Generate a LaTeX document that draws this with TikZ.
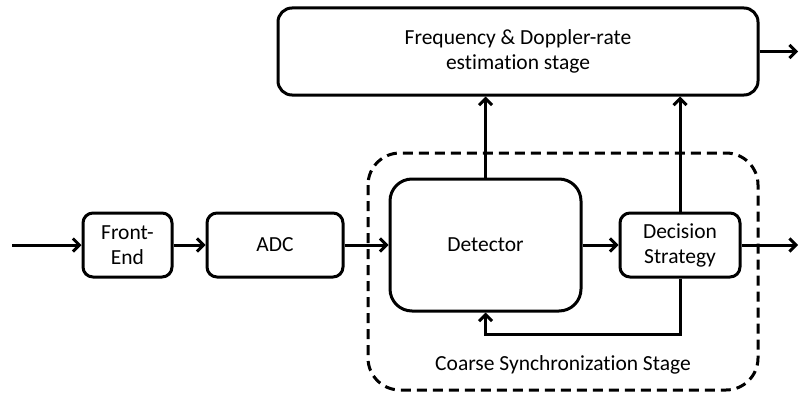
\documentclass[tikz,border=0pt]{standalone}
\usepackage{fontspec}
\setmainfont{Carlito}[Ligatures=NoCommon]
\usetikzlibrary{arrows.meta}
\tikzset{
  block/.style={draw,line width=3pt,rounded corners=10pt,align=center,inner sep=0pt},
  arr/.style={line width=3pt,-{Straight Barb[length=6.5pt,width=13pt,line width=3pt]}},
  stagebox/.style={line width=3pt,dash pattern=on 10pt off 6pt,rounded corners=32pt}
}
\begin{document}
\begin{tikzpicture}[x=1pt,y=-1pt,font=\fontsize{21.5}{25}\selectfont]
  \useasboundingbox (0,0) rectangle (799,396);
  % blocks
  \node[block,minimum width=89pt,minimum height=64pt] (fe) at (127.5,245) {Front-\\End};
  \node[block,minimum width=136pt,minimum height=64pt] (adc) at (275,245) {ADC};
  \node[block,minimum width=191pt,minimum height=132pt,rounded corners=22pt] (det) at (485.5,245) {Detector};
  \node[block,minimum width=120pt,minimum height=64pt] (dec) at (680,245) {Decision\\Strategy};
  \node[block,minimum width=480pt,minimum height=87pt,rounded corners=14pt] (freq) at (518,51.5) {Frequency \& Doppler-rate\\estimation stage};
  % coarse synchronization stage
  \draw[stagebox] (368,153) rectangle (758,390);
  \node (css) at (563,365) {Coarse Synchronization Stage};
  % free ends
  \coordinate (in) at (12,245);
  \coordinate (out) at (798,245);
  \coordinate (fout) at (798,51.5);
  % connectors
  \draw[arr] (in) -- (fe);
  \draw[arr] (fe) -- (adc);
  \draw[arr] (adc) -- (det);
  \draw[arr] (det) -- (dec);
  \draw[arr] (dec) -- (out);
  \draw[arr] (freq) -- (fout);
  \foreach \src in {det,dec}{
    \draw[arr] (\src.north) -- (\src.north |- freq.south);
  }
  \draw[arr] (dec.south) -- ++(0,56) -| (det.south);
\end{tikzpicture}
\end{document}
